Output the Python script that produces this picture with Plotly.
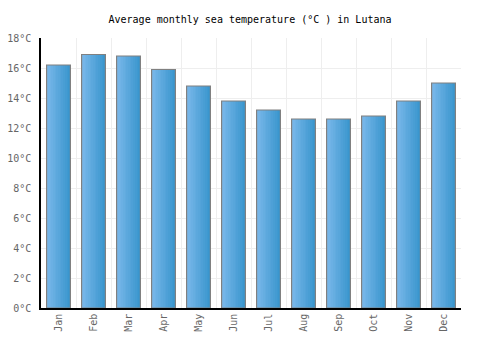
import plotly.graph_objects as go

months = ["Jan", "Feb", "Mar", "Apr", "May", "Jun", "Jul", "Aug", "Sep", "Oct", "Nov", "Dec"]
sea_temp = [16.2, 16.9, 16.8, 15.9, 14.8, 13.8, 13.2, 12.6, 12.6, 12.8, 13.8, 15.0]
y_ticks = [0, 2, 4, 6, 8, 10, 12, 14, 16, 18]
y_tick_labels = [f"{v}°C" for v in y_ticks]

FONT = "DejaVu Sans Mono"
x = list(range(len(months)))
bar_w = 0.68
n_slices = 14
c0 = (122, 184, 234)
c1 = (58, 150, 206)

fig = go.Figure()
for i in range(n_slices):
    t = i / (n_slices - 1)
    col = tuple(round(c0[k] + (c1[k] - c0[k]) * t) for k in range(3))
    fig.add_trace(go.Bar(
        x=x, y=sea_temp,
        width=bar_w / n_slices + 0.002,
        offset=-bar_w / 2 + i * bar_w / n_slices,
        marker=dict(color="rgb(%d,%d,%d)" % col, line=dict(width=0)),
        hoverinfo="skip", showlegend=False,
    ))
fig.add_trace(go.Bar(
    x=x, y=sea_temp, width=bar_w, offset=-bar_w / 2,
    marker=dict(color="rgba(0,0,0,0)", line=dict(color="#808080", width=1.2)),
    showlegend=False,
))

fig.update_layout(
    width=500, height=350,
    margin=dict(l=41, r=39, t=38, b=42),
    paper_bgcolor="white", plot_bgcolor="white",
    barmode="overlay",
    title=dict(text="Average monthly sea temperature (°C ) in Lutana",
               x=0.5, xanchor="center", y=0.943, yanchor="middle",
               font=dict(family=FONT, size=10, color="#000000")),
    font=dict(family=FONT, size=10, color="#666666"),
    xaxis=dict(
        range=[-0.5, 11.5], tickmode="array", tickvals=x, ticktext=months,
        tickangle=-90, showgrid=False, showline=True, linecolor="#000000",
        linewidth=1.5, ticks="", zeroline=False, automargin=False,
        minor=dict(tickmode="array", tickvals=[i - 0.5 for i in range(13)],
                   showgrid=True, gridcolor="#eeeeee", gridwidth=1, ticks=""),
        tickfont=dict(family=FONT, size=10, color="#666666"),
    ),
    yaxis=dict(
        range=[0, 18], tickmode="array", tickvals=y_ticks, ticktext=y_tick_labels,
        showgrid=True, gridcolor="#eeeeee", gridwidth=1,
        showline=True, linecolor="#000000", linewidth=1.5, ticks="",
        zeroline=False, ticklabelstandoff=6, automargin=False,
        tickfont=dict(family=FONT, size=10, color="#666666"),
    ),
)

fig.write_html("out.html")
